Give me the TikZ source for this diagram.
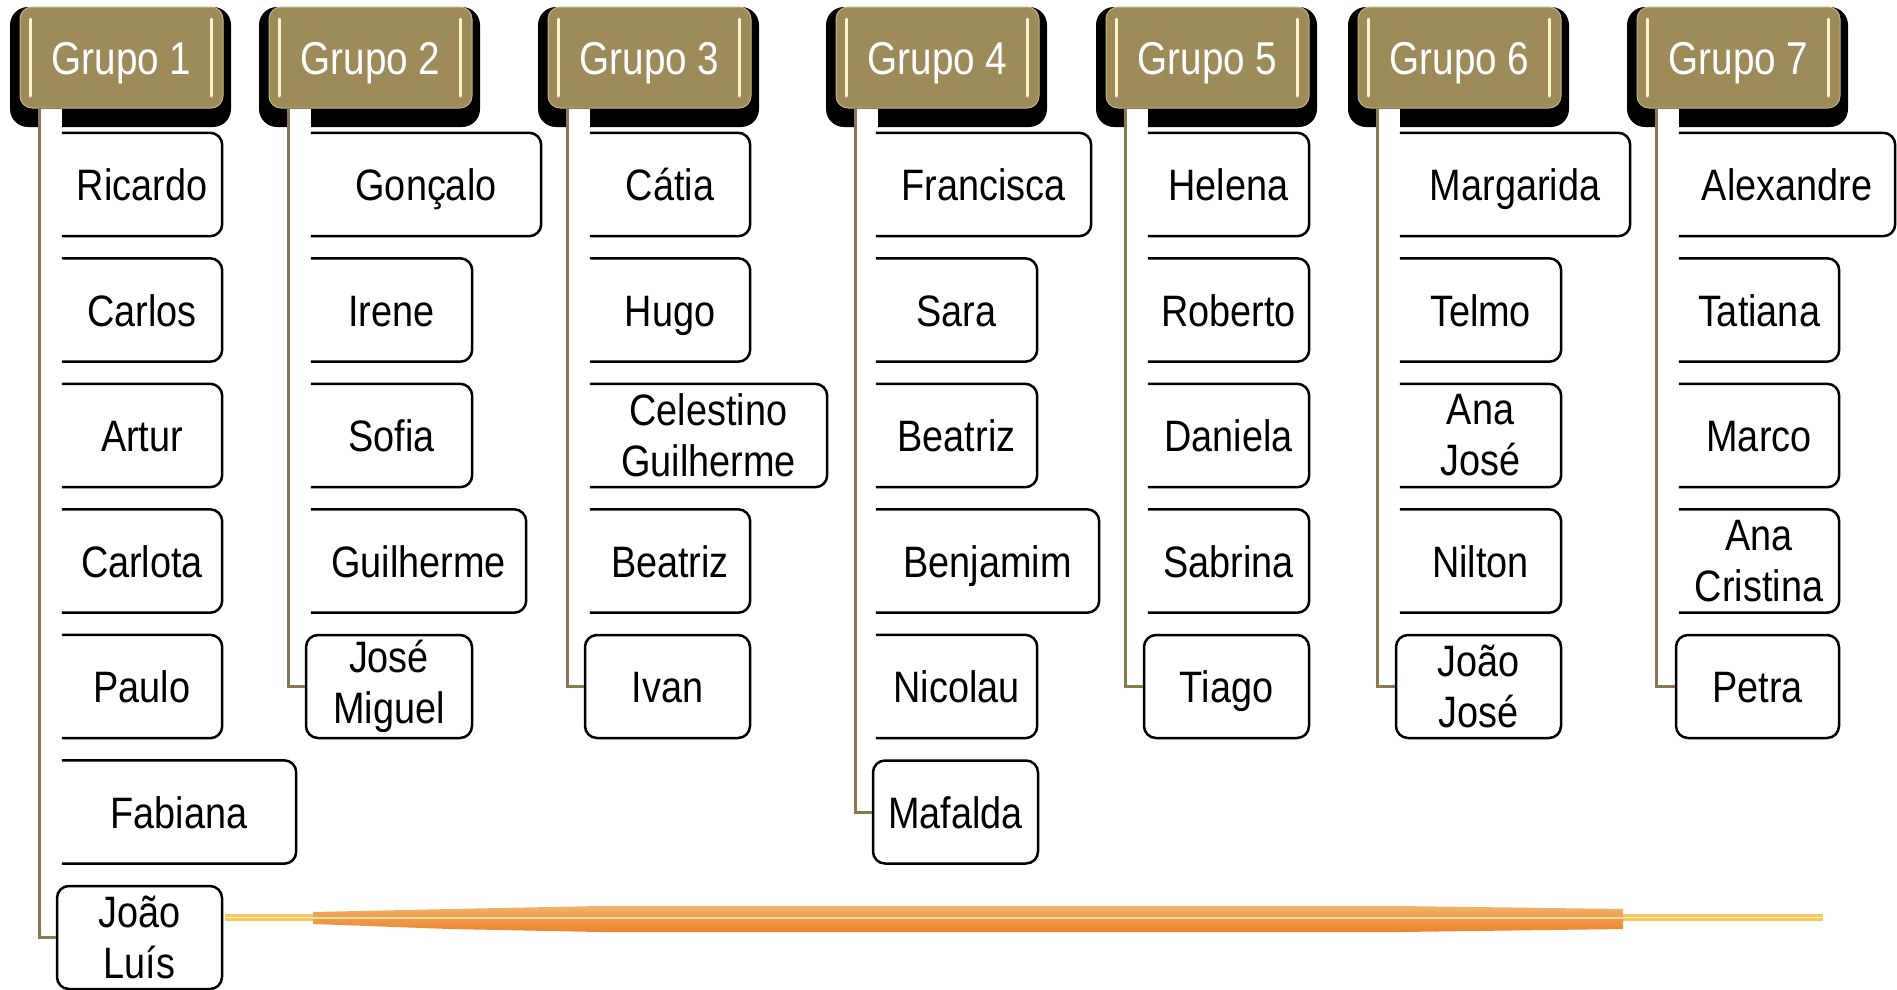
\documentclass[tikz,border=0pt]{standalone}
\usepackage{fontspec}
\newfontfamily\nomefont[FakeStretch=0.86]{Liberation Sans}
\newfontfamily\grupofont[FakeStretch=0.84]{Liberation Sans}
\definecolor{ouro}{HTML}{9E8B5A}
\definecolor{ouroborda}{HTML}{C2B48A}
\definecolor{brilho}{HTML}{FFF4CC}
\definecolor{oliva}{HTML}{897850}
\definecolor{laranja}{HTML}{EA9A36}
\definecolor{amarelo}{HTML}{F8C65C}
\tikzset{grupo/.style = {shape=rectangle, rounded corners=12pt, fill=ouro,
draw=ouroborda, line width=1pt, minimum width=203pt, minimum height=101pt,
inner sep=0pt, text=white, text height=33pt, text depth=0pt,
font=\grupofont\fontsize{46}{52}\selectfont,
path picture={
  \draw[brilho, line width=3pt, line cap=round]
    ([xshift=10pt,yshift=-12pt]path picture bounding box.north west) --
    ([xshift=10pt,yshift=12pt]path picture bounding box.south west);
  \draw[brilho, line width=3pt, line cap=round]
    ([xshift=-12pt,yshift=-12pt]path picture bounding box.north east) --
    ([xshift=-12pt,yshift=12pt]path picture bounding box.south east);}}}
\tikzset{sombra/.style = {fill=black, rounded corners=18pt}}
\tikzset{nome/.style = {shape=rectangle, minimum width=160pt, minimum height=103pt,
inner sep=0pt, align=center, fill=white, text height=32pt, text depth=0pt,
font=\nomefont\fontsize{44}{51}\selectfont}}
\tikzset{duas/.style = {text height={}, text depth={}}}
\tikzset{ultimo/.style = {nome, draw=black, line width=2.5pt, rounded corners=12pt}}
\tikzset{borda/.style = {draw=black, line width=2.5pt, rounded corners=12pt}}
\tikzset{ligacao/.style = {draw=oliva, line width=3pt}}

\begin{document}
\begin{tikzpicture}[x=1pt,y=-1pt]
                \useasboundingbox (0,0) rectangle (1897,989);

                % sombras dos grupos
                \fill[sombra] (10,7) rectangle (231,127);
                \fill[sombra] (259,7) rectangle (480,127);
                \fill[sombra] (538,7) rectangle (759,127);
                \fill[sombra] (826,7) rectangle (1047,127);
                \fill[sombra] (1096,7) rectangle (1317,127);
                \fill[sombra] (1348,7) rectangle (1569,127);
                \fill[sombra] (1627,7) rectangle (1848,127);

                \node[grupo] (grupo1) at (121.5,57.5) {Grupo 1};
                \node[grupo] (grupo2) at (370.5,57.5) {Grupo 2};
                \node[grupo] (grupo3) at (649.5,57.5) {Grupo 3};
                \node[grupo] (grupo4) at (937.5,57.5) {Grupo 4};
                \node[grupo] (grupo5) at (1207.5,57.5) {Grupo 5};
                \node[grupo] (grupo6) at (1459.5,57.5) {Grupo 6};
                \node[grupo] (grupo7) at (1738.5,57.5) {Grupo 7};

                % grupo 1
                \node[nome] (a1) at (142,184.5) {Ricardo};
                \node[nome] (a2) at (142,310) {Carlos};
                \node[nome] (a3) at (142,435.5) {Artur};
                \node[nome] (a4) at (142,561) {Carlota};
                \node[nome] (a5) at (142,686.5) {Paulo};
                \node[nome, minimum width=234pt] (a6) at (179,812) {Fabiana};
                \node[ultimo, duas, minimum width=165pt] (a7) at (139.5,937.5) {João\\Luís};

                % grupo 2
                \node[nome, minimum width=230pt] (b1) at (426,184.5) {Gonçalo};
                \node[nome, minimum width=161pt] (b2) at (391.5,310) {Irene};
                \node[nome, minimum width=161pt] (b3) at (391.5,435.5) {Sofia};
                \node[nome, minimum width=215pt] (b4) at (418.5,561) {Guilherme};
                \node[ultimo, duas, minimum width=166pt] (b5) at (389,686.5) {José\\Miguel};

                % grupo 3
                \node[nome] (c1) at (670,184.5) {Cátia};
                \node[nome] (c2) at (670,310) {Hugo};
                \node[nome, duas, minimum width=237pt] (c3) at (708.5,435.5) {Celestino\\Guilherme};
                \node[nome] (c4) at (670,561) {Beatriz};
                \node[ultimo, minimum width=165pt] (c5) at (667.5,686.5) {Ivan};

                % grupo 4
                \node[nome, minimum width=215pt] (d1) at (983.5,184.5) {Francisca};
                \node[nome, minimum width=161pt] (d2) at (956.5,310) {Sara};
                \node[nome, minimum width=161pt] (d3) at (956.5,435.5) {Beatriz};
                \node[nome, minimum width=223pt] (d4) at (987.5,561) {Benjamim};
                \node[nome, minimum width=161pt] (d5) at (956.5,686.5) {Nicolau};
                \node[ultimo, minimum width=165pt] (d6) at (955.5,812) {Mafalda};

                % grupo 5
                \node[nome, minimum width=161pt] (e1) at (1228.5,184.5) {Helena};
                \node[nome, minimum width=161pt] (e2) at (1228.5,310) {Roberto};
                \node[nome, minimum width=161pt] (e3) at (1228.5,435.5) {Daniela};
                \node[nome, minimum width=161pt] (e4) at (1228.5,561) {Sabrina};
                \node[ultimo, minimum width=165pt] (e5) at (1226.5,686.5) {Tiago};

                % grupo 6
                \node[nome, minimum width=230pt] (f1) at (1515,184.5) {Margarida};
                \node[nome, minimum width=161pt] (f2) at (1480.5,310) {Telmo};
                \node[nome, duas, minimum width=161pt] (f3) at (1480.5,435.5) {Ana\\José};
                \node[nome, minimum width=161pt] (f4) at (1480.5,561) {Nilton};
                \node[ultimo, duas, minimum width=165pt] (f5) at (1478.5,686.5) {João\\José};

                % grupo 7
                \node[nome, minimum width=216pt] (g1) at (1787,184.5) {Alexandre};
                \node[nome] (g2) at (1759,310) {Tatiana};
                \node[nome] (g3) at (1759,435.5) {Marco};
                \node[nome, duas] (g4) at (1759,561) {Ana\\Cristina};
                \node[ultimo, minimum width=163pt] (g5) at (1757.5,686.5) {Petra};

                % caixas abertas do lado esquerdo
                \foreach \n in {a1,a2,a3,a4,a5,a6,b1,b2,b3,b4,c1,c2,c3,c4,
                                d1,d2,d3,d4,d5,e1,e2,e3,e4,f1,f2,f3,f4,g1,g2,g3,g4}
                  \draw[borda] (\n.north west) -- (\n.north east)
                               -- (\n.south east) -- (\n.south west);

                % ligacoes
                \fill[white] ([xshift=19pt]grupo1.south west) rectangle ([xshift=42pt,yshift=-19pt]grupo1.south west);
                \fill[white] ([xshift=19pt]grupo2.south west) rectangle ([xshift=42pt,yshift=-19pt]grupo2.south west);
                \fill[white] ([xshift=19pt]grupo3.south west) rectangle ([xshift=42pt,yshift=-19pt]grupo3.south west);
                \fill[white] ([xshift=19pt]grupo4.south west) rectangle ([xshift=42pt,yshift=-19pt]grupo4.south west);
                \fill[white] ([xshift=19pt]grupo5.south west) rectangle ([xshift=42pt,yshift=-19pt]grupo5.south west);
                \fill[white] ([xshift=19pt]grupo6.south west) rectangle ([xshift=42pt,yshift=-19pt]grupo6.south west);
                \fill[white] ([xshift=19pt]grupo7.south west) rectangle ([xshift=42pt,yshift=-19pt]grupo7.south west);

                \draw[ligacao] ([xshift=20pt]grupo1.south west) |- (a7.west);
                \draw[ligacao] ([xshift=20pt]grupo2.south west) |- (b5.west);
                \draw[ligacao] ([xshift=20pt]grupo3.south west) |- (c5.west);
                \draw[ligacao] ([xshift=20pt]grupo4.south west) |- (d6.west);
                \draw[ligacao] ([xshift=20pt]grupo5.south west) |- (e5.west);
                \draw[ligacao] ([xshift=20pt]grupo6.south west) |- (f5.west);
                \draw[ligacao] ([xshift=20pt]grupo7.south west) |- (g5.west);

                % traco laranja
                \draw[amarelo, line width=7pt] (225,917.5) -- (1823,917.5);
                \draw[white, line width=1.5pt, opacity=0.7] (225,917.5) -- (1823,917.5);
                \shade[top color=laranja!75, bottom color=laranja!85!red]
                  (313,912) -- (450,909) -- (600,906) -- (1400,906) -- (1623,909)
                  -- (1623,929) -- (1400,932) -- (600,932) -- (450,929) -- (313,924) -- cycle;
                \draw[amarelo!60!white, line width=2pt] (313,918) -- (1623,918);
            \end{tikzpicture}
\end{document}
